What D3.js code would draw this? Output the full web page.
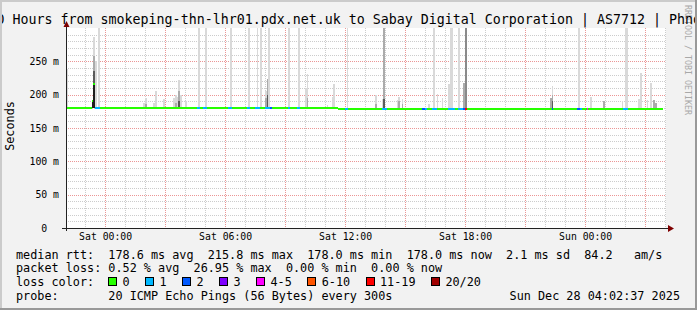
<!DOCTYPE html>
<html>
<head>
<meta charset="utf-8">
<script src="https://cdn.jsdelivr.net/npm/d3@7"></script>
<style>
body { margin: 0; background: #f2f2f2; }
svg text { font-family: "DejaVu Sans Mono", monospace; white-space: pre; }
</style>
</head>
<body>
<script>
// sizes
const W = 697, H = 310;
const plot = { left: 66, right: 666, top: 28, bottom: 228 };

// ---- data ----
// all times are minutes after Sat 00:00, one sample = 5 minutes
const medianLevels = [[-120, 700, 179.3], [700, 1675, 178.0]];   // [from, to, ms]
const medianSpikes = [[-40, 190.5], [-35, 215.8]];                 // [minute, ms]

// [from, to, loss colour index]
const lossRuns = [
    [-30, -15, 1], [275, 285, 1], [295, 305, 1], [370, 380, 1], [425, 435, 1],
    [450, 465, 1], [480, 495, 1], [495, 500, 2], [550, 555, 1], [575, 585, 1],
    [720, 730, 1], [830, 845, 1], [950, 960, 2], [960, 965, 1], [980, 995, 1],
    [1030, 1050, 1], [1060, 1075, 1], [1075, 1080, 2], [1080, 1085, 6],
    [1340, 1345, 2], [1415, 1425, 2], [1425, 1430, 1], [1445, 1450, 4], [1555, 1570, 1]
];

// smoke: [minute, low ms, high ms, shade]
const smoke = [
    [-115, 180, 238, "l"],
    [-40, 180, 191, "k"],
    [-35, 258, 287, "l"], [-35, 236, 258, "m"], [-35, 216, 236, "d"], [-35, 180, 216, "k"],
    [-30, 180, 250, "l"],
    [-20, 180, 300, "l"],
    [115, 180, 188, "l"],
    [120, 180, 195, "l"], [120, 180, 186, "m"],
    [145, 180, 187, "l"],
    [150, 180, 205, "l"],
    [175, 180, 193, "l"],
    [205, 180, 195, "l"],
    [210, 180, 200, "l"], [210, 180, 188, "m"],
    [215, 180, 196, "l"],
    [220, 180, 222, "l"], [220, 180, 205, "m"], [220, 180, 190, "d"],
    [225, 180, 200, "l"],
    [240, 180, 190, "l"],
    [280, 180, 300, "l"],
    [300, 180, 300, "l"],
    [375, 180, 300, "l"],
    [430, 180, 300, "l"],
    [455, 180, 300, "l"],
    [465, 180, 300, "l"],
    [480, 180, 205, "l"], [480, 180, 195, "m"],
    [485, 180, 223, "m"], [485, 180, 200, "d"],
    [490, 180, 300, "l"],
    [550, 180, 300, "l"],
    [580, 180, 300, "l"],
    [600, 180, 210, "l"],
    [605, 180, 231, "l"], [605, 180, 195, "m"],
    [665, 180, 184, "l"],
    [680, 180, 196, "l"],
    [685, 180, 216, "l"],
    [725, 180, 300, "l"],
    [810, 180, 199, "l"], [810, 180, 186, "m"],
    [830, 180, 193, "l"],
    [835, 180, 300, "m"], [835, 180, 193, "d"],
    [875, 180, 192, "l"],
    [880, 180, 196, "l"], [880, 180, 190, "m"],
    [890, 180, 193, "l"], [890, 180, 186, "m"],
    [970, 180, 186, "l"],
    [985, 180, 300, "l"],
    [995, 180, 201, "l"],
    [1010, 180, 195, "l"],
    [1030, 180, 216, "l"],
    [1035, 180, 300, "l"],
    [1040, 180, 300, "l"],
    [1060, 180, 300, "l"],
    [1075, 180, 217, "m"],
    [1080, 180, 300, "g"],
    [1335, 180, 195, "m"],
    [1340, 180, 213, "l"], [1340, 180, 200, "m"], [1340, 180, 190, "d"],
    [1420, 180, 300, "l"],
    [1455, 180, 197, "l"],
    [1495, 180, 191, "m"],
    [1550, 180, 190, "l"],
    [1560, 180, 300, "l"],
    [1565, 180, 300, "l"],
    [1600, 180, 194, "l"],
    [1605, 180, 233, "l"],
    [1625, 180, 192, "l"],
    [1635, 180, 218, "l"],
    [1645, 180, 192, "m"],
    [1650, 180, 188, "m"]
];

const yTicks = [0, 50, 100, 150, 200, 250];
const lossColors = ["#26ff00", "#00b8ff", "#0059ff", "#7e00ff", "#ff00ff", "#ff5500", "#ff0000", "#a00000"];
const lossLabels = ["0", "1", "2", "3", "4-5", "6-10", "11-19", "20/20"];
const shades = { l: "#d9d9d9", m: "#ababab", g: "#8a8a8a", d: "#5a5a5a", k: "#1e1e1e" };

const statNames = ["avg", "max", "min", "now"];
const rttStats = [178.6, 215.8, 178.0, 178.0];
const rttSd = 2.1, rttAmps = 84.2;
const lossStats = [0.52, 26.95, 0.00, 0.00];

const title = "30 Hours from smokeping-thn-lhr01.pdx.net.uk to Sabay Digital Corporation | AS7712 | Phnom Penh";
const probe = "20 ICMP Echo Pings (56 Bytes) every 300s";
const stamp = "Sun Dec 28 04:02:37 2025";

// ---- scales ----
const sat = new Date(2025, 11, 27, 0, 0, 0);
const at = m => new Date(sat.getTime() + m * 60000);
const start = new Date(2025, 11, 26, 22, 2, 37), end = new Date(2025, 11, 28, 4, 2, 37);

let x = d3.scaleTime().domain([start, end]).range([plot.left, plot.right]);
let y = d3.scaleLinear().domain([0, 300]).range([plot.bottom, plot.top]);
const px = v => Math.round(v) + 0.5;

let svg = d3.select("body").append("svg")
    .attr("width", W).attr("height", H)
    .style("display", "block");

svg.append("rect").attr("width", W).attr("height", H).attr("fill", "#f2f2f2");
svg.append("defs").append("clipPath").attr("id", "plotclip")
    .append("rect")
    .attr("x", plot.left).attr("y", plot.top)
    .attr("width", plot.right - plot.left).attr("height", plot.bottom - plot.top);
svg.append("rect")
    .attr("x", plot.left).attr("y", plot.top)
    .attr("width", plot.right - plot.left).attr("height", plot.bottom - plot.top)
    .attr("fill", "#fff");

// grid
let grid = svg.append("g").attr("shape-rendering", "crispEdges").attr("stroke-dasharray", "1,1");
let major = x.ticks(d3.timeHour.every(3)).map(d => +d);
x.ticks(d3.timeHour.every(1)).filter(d => !major.includes(+d)).forEach(d => {
    grid.append("line").attr("x1", px(x(d))).attr("x2", px(x(d)))
        .attr("y1", plot.top).attr("y2", plot.bottom)
        .attr("stroke", "#8f8f8f").attr("stroke-opacity", 0.45);
});
d3.range(10, 300, 10).filter(v => v % 50 !== 0).forEach(v => {
    grid.append("line").attr("x1", plot.left).attr("x2", plot.right)
        .attr("y1", px(y(v))).attr("y2", px(y(v)))
        .attr("stroke", "#8f8f8f").attr("stroke-opacity", 0.45);
});
major.forEach(d => {
    grid.append("line").attr("x1", px(x(d))).attr("x2", px(x(d)))
        .attr("y1", plot.top).attr("y2", plot.bottom)
        .attr("stroke", "#de5050").attr("stroke-opacity", 0.6);
});
yTicks.filter(v => v > 0).forEach(v => {
    grid.append("line").attr("x1", plot.left).attr("x2", plot.right)
        .attr("y1", px(y(v))).attr("y2", px(y(v)))
        .attr("stroke", "#de5050").attr("stroke-opacity", 0.6);
});

// smoke
let marks = svg.append("g").attr("clip-path", "url(#plotclip)");
marks.append("g").attr("shape-rendering", "crispEdges")
    .selectAll("rect").data(smoke).enter().append("rect")
    .attr("x", d => x(at(d[0])))
    .attr("width", d => x(at(d[0] + 5)) - x(at(d[0])))
    .attr("y", d => y(d[2]))
    .attr("height", d => y(d[1]) - y(d[2]))
    .attr("fill", d => shades[d[3]]);

// median line coloured by loss
const samples = d3.range(-120, 1675, 5).map(m => {
    const lvl = medianLevels.find(s => m >= s[0] && m < s[1]);
    const sp = medianSpikes.find(s => s[0] === m);
    const ls = lossRuns.find(s => m >= s[0] && m < s[1]);
    return { m: m, v: sp ? sp[1] : lvl[2], loss: ls ? ls[2] : 0 };
});
let runs = [];
samples.forEach(s => {
    let last = runs[runs.length - 1];
    if (last && last.v === s.v && last.loss === s.loss) last.to = s.m + 5;
    else runs.push({ from: s.m, to: s.m + 5, v: s.v, loss: s.loss });
});
marks.append("g").attr("shape-rendering", "crispEdges")
    .selectAll("line").data(runs).enter().append("line")
    .attr("x1", d => x(at(d.from))).attr("x2", d => x(at(d.to)))
    .attr("y1", d => y(d.v)).attr("y2", d => y(d.v))
    .attr("stroke", d => lossColors[d.loss]).attr("stroke-width", 2);

// axes
let axes = svg.append("g").attr("shape-rendering", "crispEdges");
axes.append("line").attr("x1", plot.left - 4).attr("x2", plot.right + 3)
    .attr("y1", plot.bottom + 0.5).attr("y2", plot.bottom + 0.5).attr("stroke", "#222");
axes.append("line").attr("x1", plot.left + 0.5).attr("x2", plot.left + 0.5)
    .attr("y1", plot.bottom + 3).attr("y2", plot.top - 3).attr("stroke", "#222");
svg.append("path")
    .attr("d", `M${plot.right + 2},${plot.bottom - 3} L${plot.right + 8},${plot.bottom + 0.5} L${plot.right + 2},${plot.bottom + 4} Z`)
    .attr("fill", "#7f0000");
svg.append("path")
    .attr("d", `M${plot.left - 2.5},${plot.top - 1} L${plot.left + 0.5},${plot.top - 7} L${plot.left + 3.5},${plot.top - 1} Z`)
    .attr("fill", "#7f0000");

let xAxis = svg.append("g")
    .attr("transform", `translate(0, ${plot.bottom})`)
    .call(d3.axisBottom(x).ticks(d3.timeHour.every(6)).tickFormat(d3.timeFormat("%a %H:%M")).tickSize(0).tickPadding(5.5));
let yAxis = svg.append("g")
    .attr("transform", `translate(${plot.left}, 0)`)
    .call(d3.axisLeft(y).tickValues(yTicks).tickFormat(d => d ? d + " m" : "0  ").tickSize(0).tickPadding(7));
[xAxis, yAxis].forEach(a => {
    a.select(".domain").remove();
    a.selectAll("text")
        .attr("xml:space", "preserve")
        .style("font-family", "'DejaVu Sans Mono', monospace")
        .style("font-size", "9.8px")
        .attr("fill", "#000");
});

svg.append("text")
    .attr("transform", "translate(14, 126) rotate(-90)")
    .style("text-anchor", "middle")
    .style("font-size", "11.8px")
    .text("Seconds");

svg.append("text")
    .attr("transform", "translate(685, 5) rotate(90)")
    .style("font-size", "8.3px")
    .attr("fill", "#a8a8a8")
    .text("RRDTOOL / TOBI OETIKER");

// legend
let legend = svg.append("g").style("font-size", "11.8px");
const row = [258.5, 272, 286, 299.5];
legend.append("text").attr("x", 16).attr("y", row[0]).attr("xml:space", "preserve")
    .text("median rtt:  " + rttStats.map((v, i) => v.toFixed(1) + " ms " + statNames[i]).join("  ")
        + "  " + rttSd.toFixed(1) + " ms sd  " + rttAmps.toFixed(1) + "   am/s");
legend.append("text").attr("x", 16).attr("y", row[1]).attr("xml:space", "preserve")
    .text("packet loss: " + lossStats.map((v, i) => v.toFixed(2) + " % " + statNames[i]).join("  "));
legend.append("text").attr("x", 16).attr("y", row[2]).text("loss color:");
let lx = 108;
lossLabels.forEach((lab, i) => {
    legend.append("rect")
        .attr("x", lx + 0.5).attr("y", row[2] - 8.5).attr("width", 8).attr("height", 8)
        .attr("fill", lossColors[i]).attr("stroke", "#000").attr("shape-rendering", "crispEdges");
    legend.append("text").attr("x", lx + 14.5).attr("y", row[2]).text(lab);
    lx += 14.5 + lab.length * 7.1 + 15.4;
});
legend.append("text").attr("x", 16).attr("y", row[3]).attr("xml:space", "preserve")
    .text("probe:       " + probe);
legend.append("text").attr("x", 680).attr("y", row[3])
    .style("text-anchor", "end")
    .text(stamp);

// title (wider than the image, clipped at both sides like the original)
svg.append("text")
    .attr("x", -11.5).attr("y", 24)
    .style("font-size", "13.3px")
    .text(title);

// frame
svg.append("rect").attr("x", 0).attr("y", 0).attr("width", W).attr("height", 2).attr("fill", "#cbcbcb");
svg.append("rect").attr("x", 0).attr("y", 0).attr("width", 2).attr("height", H).attr("fill", "#cbcbcb");
svg.append("rect").attr("x", 0).attr("y", H - 2).attr("width", W).attr("height", 2).attr("fill", "#999");
svg.append("rect").attr("x", W - 2).attr("y", 0).attr("width", 2).attr("height", H).attr("fill", "#999");
</script>
</body>
</html>
